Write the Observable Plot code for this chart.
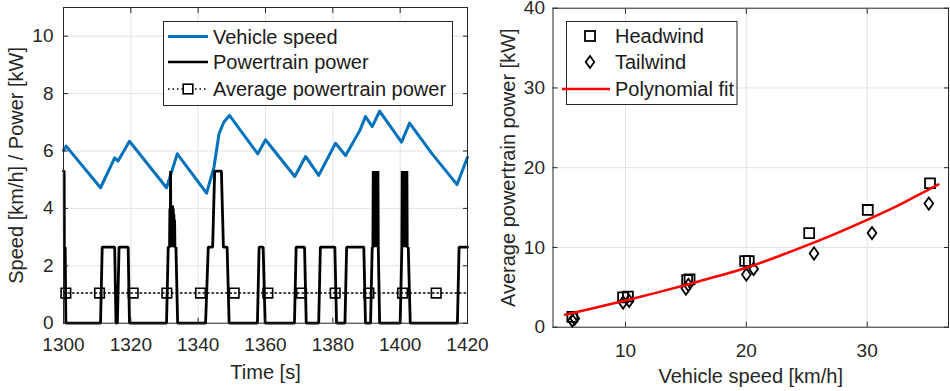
<!DOCTYPE html>
<html>
<head>
<meta charset="utf-8">
<script src="https://cdn.jsdelivr.net/npm/d3@7"></script>
<script src="https://cdn.jsdelivr.net/npm/@observablehq/plot@0.6"></script>
<style>
  html, body { margin: 0; padding: 0; background: #fff; }
  #wrap { position: relative; width: 950px; height: 391px; overflow: hidden; font-family: 'Liberation Sans', Arial, sans-serif; }
  #left, #right { position: absolute; top: 0; }
  #left { left: 0; }
  #right { left: 480px; }
  .legend { position: absolute; overflow: visible; }
  .legend text { font-family: 'Liberation Sans', Arial, sans-serif; font-size: 20px; fill: #1a1a1a; }
</style>
</head>
<body>
<div id="wrap">
  <div id="left"></div>
  <div id="right"></div>
</div>
<script>
// ---------- Left panel data ----------
const timeTicks = [1300, 1320, 1340, 1360, 1380, 1400, 1420];
const leftYTicks = [0, 2, 4, 6, 8, 10];

const speedTime = [1300, 1300.8, 1311.0, 1315.2, 1316.2, 1319.6, 1330.6, 1333.8, 1342.5, 1344.7, 1346.2, 1347.6, 1349.3, 1357.7, 1360.0, 1368.7, 1371.9, 1375.8, 1380.8, 1383.8, 1388.0, 1389.7, 1391.7, 1393.9, 1400.4, 1402.8, 1409.5, 1416.9, 1420];
const speedKmh  = [6.02, 6.17, 4.72, 5.76, 5.65, 6.34, 4.72, 5.90, 4.53, 5.44, 6.60, 7.00, 7.24, 5.90, 6.39, 5.11, 5.81, 5.15, 6.27, 5.84, 6.71, 7.20, 6.85, 7.39, 6.31, 6.97, 5.90, 4.83, 5.78];

const powerTime = [
  1300.0, 1300.2, 1300.25, 1300.5, 1300.7,
  1311.0, 1311.5, 1315.2, 1315.6, 1316.0, 1316.5, 1319.2, 1319.6,
  1330.6, 1331.1, 1331.5,
  1331.6, 1331.7, 1331.8, 1331.9, 1332.0, 1332.1, 1332.2, 1332.3, 1332.4, 1332.5, 1332.6, 1332.7, 1332.8, 1332.9, 1333.0, 1333.1,
  1333.4, 1333.9,
  1342.2, 1343.0, 1344.3, 1344.9, 1346.9, 1347.5, 1348.6, 1349.2,
  1357.6, 1358.1, 1359.3, 1359.9,
  1368.6, 1369.1, 1371.6, 1372.1,
  1375.8, 1376.3, 1380.6, 1381.1,
  1383.6, 1384.1, 1389.2, 1389.7,
  1391.2, 1391.7, 1391.9,
  1392.0, 1392.1, 1392.2, 1392.3, 1392.4, 1392.5, 1392.6, 1392.7, 1392.8, 1392.9, 1393.0, 1393.1, 1393.2, 1393.3, 1393.4,
  1393.5, 1393.9,
  1400.0, 1400.5,
  1400.6, 1400.7, 1400.8, 1400.9, 1401.0, 1401.1, 1401.2, 1401.3, 1401.4, 1401.5, 1401.6, 1401.7, 1401.8, 1401.9, 1402.0,
  1402.1, 1402.4, 1403.0,
  1417.0, 1417.5, 1420.0
];
const powerKW = [
  5.3, 5.3, 2.65, 2.65, 0,
  0, 2.65, 2.65, 0, 0, 2.65, 2.65, 0,
  0, 2.65, 2.65,
  4.0, 2.65, 5.3, 2.65, 4.1, 2.65, 3.9, 2.65, 4.1, 2.65, 4.0, 2.65, 3.8, 2.65, 3.6, 2.65,
  2.65, 0,
  0, 2.65, 2.65, 5.3, 5.3, 2.65, 2.65, 0,
  0, 2.65, 2.65, 0,
  0, 2.65, 2.65, 0,
  0, 2.65, 2.65, 0,
  0, 2.65, 2.65, 0,
  0, 2.65, 2.65,
  5.3, 2.65, 5.3, 2.65, 5.3, 2.65, 5.3, 2.65, 5.3, 2.65, 5.3, 2.65, 5.3, 2.65, 5.3,
  2.65, 0,
  0, 2.65,
  5.3, 3.2, 5.3, 3.3, 5.3, 3.0, 5.3, 2.65, 5.3, 3.1, 5.3, 3.3, 5.3, 3.2, 5.3,
  2.65, 2.65, 0,
  0, 2.65, 2.65
];

const avgLineTime = [1300, 1420];
const avgLineKW = [1.05, 1.05];
const avgMarkerTime = [1300.7, 1310.7, 1320.7, 1330.7, 1340.7, 1350.7, 1360.7, 1370.7, 1380.7, 1390.7, 1400.7, 1410.7];
const avgMarkerKW = [1.05, 1.05, 1.05, 1.05, 1.05, 1.05, 1.05, 1.05, 1.05, 1.05, 1.05, 1.05];

// ---------- Right panel data ----------
const speedTicks = [10, 20, 30];
const powerTicks = [0, 10, 20, 30, 40];

const headSpeed = [5.6, 9.8, 10.2, 15.1, 15.3, 19.9, 20.2, 25.2, 30.05, 35.2];
const headPower = [1.3, 3.75, 3.85, 5.9, 6.0, 8.3, 8.3, 11.8, 14.7, 18.05];
const tailSpeed = [5.6, 5.8, 9.8, 10.3, 15.0, 15.2, 20.0, 20.6, 25.6, 30.4, 35.1];
const tailPower = [0.85, 1.1, 3.1, 3.3, 4.85, 5.3, 6.6, 7.3, 9.25, 11.8, 15.5];
const fitSpeed = [5, 7.5, 10, 12.5, 15, 17.5, 20, 22.5, 25, 27.5, 30, 32.5, 35, 35.9];
const fitPower = [1.55, 2.45, 3.35, 4.3, 5.3, 6.35, 7.45, 8.8, 10.25, 11.8, 13.45, 15.2, 17.2, 17.9];

// ---------- helpers ----------
const idx = (arr) => d3.range(arr.length);
const ink = "#262626";
const gridColor = "#e3e3e3";
const baseStyle = {fontFamily: "'Liberation Sans', Arial, sans-serif", fontSize: "19px", color: ink, background: "transparent", overflow: "visible"};

const tallDiamond = {
  draw(context, size) {
    const s = Math.sqrt(size);
    const h = s * 0.62, w = s * 0.44;
    context.moveTo(0, -h);
    context.lineTo(w, 0);
    context.lineTo(0, h);
    context.lineTo(-w, 0);
    context.closePath();
  }
};

// ---------- Left chart ----------
const left = Plot.plot({
  width: 480, height: 391,
  marginLeft: 63, marginRight: 13, marginTop: 7, marginBottom: 68.3,
  style: baseStyle,
  x: {domain: [1300, 1420]},
  y: {domain: [0, 11]},
  marks: [
    Plot.gridX(timeTicks.slice(1, -1), {stroke: gridColor, strokeOpacity: 1}),
    Plot.gridY(leftYTicks.slice(1), {stroke: gridColor, strokeOpacity: 1}),
    Plot.line(idx(speedTime), {x: i => speedTime[i], y: i => speedKmh[i], stroke: "#0072BD", strokeWidth: 3, strokeLinejoin: "round"}),
    Plot.line(idx(powerTime), {x: i => powerTime[i], y: i => powerKW[i], stroke: "#000", strokeWidth: 2.8, strokeLinejoin: "miter"}),
    Plot.line(idx(avgLineTime), {x: i => avgLineTime[i], y: i => avgLineKW[i], stroke: "#000", strokeWidth: 1.5, strokeDasharray: "1.5,3"}),
    Plot.dot(idx(avgMarkerTime), {x: i => avgMarkerTime[i], y: i => avgMarkerKW[i], symbol: "square", r: 5.4, stroke: "#000", strokeWidth: 1.6, fill: "none"}),
    Plot.frame({stroke: ink, strokeWidth: 1}),
    Plot.axisX(timeTicks, {anchor: "bottom", tickSize: -5, tickPadding: 19, label: null, tickFormat: d => String(d)}),
    Plot.axisX(timeTicks, {anchor: "top", tickSize: -5, label: null, tickFormat: () => ""}),
    Plot.axisY(leftYTicks, {anchor: "left", tickSize: -5, tickPadding: 15, label: null}),
    Plot.axisY(leftYTicks, {anchor: "right", tickSize: -5, label: null, tickFormat: () => ""}),
    Plot.text(["Time [s]"], {frameAnchor: "bottom", dy: 49.5, lineAnchor: "middle", textAnchor: "middle", fontSize: 20, fill: ink}),
    Plot.text(["Speed [km/h] / Power [kW]"], {frameAnchor: "left", dx: -47, rotate: -90, lineAnchor: "middle", textAnchor: "middle", fontSize: 20, fill: ink})
  ]
});
document.getElementById("left").appendChild(left);

// ---------- Right chart ----------
const right = Plot.plot({
  width: 470, height: 391,
  marginLeft: 72.5, marginRight: 2, marginTop: 7.7, marginBottom: 64.3,
  style: baseStyle,
  x: {domain: [4, 36.73]},
  y: {domain: [0, 40]},
  marks: [
    Plot.gridX(speedTicks, {stroke: gridColor, strokeOpacity: 1}),
    Plot.gridY(powerTicks.slice(1, -1), {stroke: gridColor, strokeOpacity: 1}),
    Plot.dot(idx(headSpeed), {x: i => headSpeed[i], y: i => headPower[i], symbol: "square", r: 5.6, stroke: "#000", strokeWidth: 1.8, fill: "none"}),
    Plot.dot(idx(tailSpeed), {x: i => tailSpeed[i], y: i => tailPower[i], symbol: tallDiamond, r: 5.6, stroke: "#000", strokeWidth: 1.8, fill: "none"}),
    Plot.line(idx(fitSpeed), {x: i => fitSpeed[i], y: i => fitPower[i], stroke: "#FF0000", strokeWidth: 2.5, curve: "monotone-x"}),
    Plot.frame({stroke: ink, strokeWidth: 1}),
    Plot.axisX(speedTicks, {anchor: "bottom", tickSize: -5, tickPadding: 21, label: null}),
    Plot.axisX(speedTicks, {anchor: "top", tickSize: -5, label: null, tickFormat: () => ""}),
    Plot.axisY(powerTicks, {anchor: "left", tickSize: -5, tickPadding: 13, label: null}),
    Plot.axisY(powerTicks, {anchor: "right", tickSize: -5, label: null, tickFormat: () => ""}),
    Plot.text(["Vehicle speed [km/h]"], {frameAnchor: "bottom", dy: 49.5, lineAnchor: "middle", textAnchor: "middle", fontSize: 20, fill: ink}),
    Plot.text(["Average powertrain power [kW]"], {frameAnchor: "left", dx: -44.5, rotate: -90, lineAnchor: "middle", textAnchor: "middle", fontSize: 20, fill: ink})
  ]
});
document.getElementById("right").appendChild(right);

// ---------- Legends (overlaid boxes) ----------
const NS = "http://www.w3.org/2000/svg";
function makeLegend(x, y, w, h, rows) {
  const svg = document.createElementNS(NS, "svg");
  svg.setAttribute("class", "legend");
  svg.setAttribute("width", w + 10);
  svg.setAttribute("height", h + 2);
  svg.style.left = (x - 5) + "px";
  svg.style.top = y + "px";
  const g = document.createElementNS(NS, "g");
  g.setAttribute("transform", "translate(5,0)");
  svg.appendChild(g);
  const box = document.createElementNS(NS, "rect");
  box.setAttribute("x", 0.5); box.setAttribute("y", 0.5);
  box.setAttribute("width", w); box.setAttribute("height", h);
  box.setAttribute("fill", "#fff"); box.setAttribute("stroke", ink); box.setAttribute("stroke-width", 1);
  g.appendChild(box);
  rows.forEach(r => {
    r.draw(g, r.y);
    const t = document.createElementNS(NS, "text");
    t.setAttribute("x", r.tx); t.setAttribute("y", r.y); t.setAttribute("dy", "0.35em");
    t.textContent = r.label;
    g.appendChild(t);
  });
  document.getElementById("wrap").appendChild(svg);
}
function el(parent, tag, attrs) {
  const e = document.createElementNS(NS, tag);
  for (const k in attrs) e.setAttribute(k, attrs[k]);
  parent.appendChild(e);
  return e;
}

makeLegend(163, 21, 289, 84, [
  {y: 15.5, tx: 50, label: "Vehicle speed", draw: (g, y) => el(g, "line", {x1: 5, x2: 45, y1: y, y2: y, stroke: "#0072BD", "stroke-width": 2.8})},
  {y: 41, tx: 50, label: "Powertrain power", draw: (g, y) => el(g, "line", {x1: 5, x2: 45, y1: y, y2: y, stroke: "#000", "stroke-width": 2.5})},
  {y: 68, tx: 50, label: "Average powertrain power", draw: (g, y) => {
    el(g, "line", {x1: 5, x2: 45, y1: y, y2: y, stroke: "#000", "stroke-width": 1.5, "stroke-dasharray": "1.5,3"});
    el(g, "rect", {x: 20.2, y: y - 4.8, width: 9.6, height: 9.6, fill: "#fff", stroke: "#000", "stroke-width": 1.6});
  }}
]);

makeLegend(566, 21, 170.5, 83, [
  {y: 15, tx: 49, label: "Headwind", draw: (g, y) => el(g, "rect", {x: 19, y: y - 5, width: 10, height: 10, fill: "none", stroke: "#000", "stroke-width": 1.8})},
  {y: 41, tx: 49, label: "Tailwind", draw: (g, y) => el(g, "path", {d: `M24,${y - 6}L28.3,${y}L24,${y + 6}L19.7,${y}Z`, fill: "none", stroke: "#000", "stroke-width": 1.8})},
  {y: 68, tx: 49, label: "Polynomial fit", draw: (g, y) => el(g, "line", {x1: -4, x2: 44, y1: y, y2: y, stroke: "#FF0000", "stroke-width": 2.5})}
]);
</script>
</body>
</html>
